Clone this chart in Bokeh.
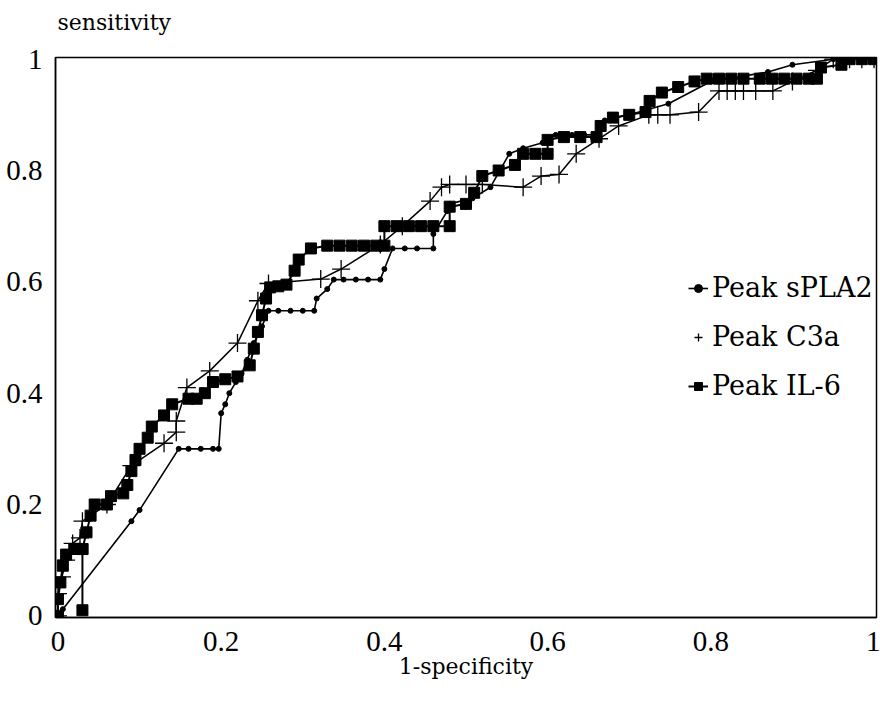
from bokeh.plotting import figure
from bokeh.models import Legend, LegendItem, Range1d, FixedTicker, Title
from bokeh.embed import file_html
from bokeh.resources import INLINE

# --- data ---
spla2_x = [0, 0.006, 0.09, 0.1, 0.148, 0.16, 0.175, 0.19, 0.197, 0.2, 0.205, 0.21, 0.218, 0.225,
           0.232, 0.24, 0.25, 0.258, 0.27, 0.285, 0.3, 0.314, 0.317, 0.33, 0.338, 0.35, 0.365,
           0.38, 0.395, 0.40, 0.41, 0.425, 0.44, 0.46, 0.46, 0.477, 0.48, 0.508, 0.53, 0.553,
           0.57, 0.594, 0.61, 0.63, 0.645, 0.663, 0.67, 0.7, 0.748, 0.8, 0.87, 0.9, 0.95, 0.97,
           1.0]
spla2_y = [0, 0.012, 0.17, 0.19, 0.30, 0.30, 0.30, 0.30, 0.30, 0.364, 0.38, 0.40, 0.42, 0.435,
           0.46, 0.49, 0.52, 0.548, 0.548, 0.548, 0.548, 0.548, 0.57, 0.587, 0.604, 0.604, 0.604,
           0.604, 0.604, 0.623, 0.66, 0.66, 0.66, 0.66, 0.686, 0.727, 0.74, 0.75, 0.77, 0.83,
           0.84, 0.85, 0.864, 0.864, 0.864, 0.864, 0.89, 0.90, 0.92, 0.96, 0.977, 0.99, 1.0, 1.0,
           1.0]

c3a_x = [0, 0, 0.005, 0.01, 0.018, 0.027, 0.03, 0.06, 0.09, 0.13, 0.145, 0.145, 0.158, 0.186,
         0.22, 0.245, 0.258, 0.322, 0.347, 0.395, 0.422, 0.456, 0.47, 0.48, 0.5, 0.52, 0.57,
         0.592, 0.614, 0.635, 0.663, 0.687, 0.724, 0.735, 0.75, 0.785, 0.81, 0.82, 0.83, 0.84,
         0.855, 0.876, 0.9, 0.93, 0.95, 0.96, 0.97, 0.985, 1.0]
c3a_y = [0, 0.04, 0.07, 0.1, 0.13, 0.14, 0.17, 0.2, 0.27, 0.31, 0.33, 0.35, 0.41, 0.44,
         0.49, 0.566, 0.597, 0.605, 0.623, 0.667, 0.70, 0.745, 0.77, 0.775, 0.775, 0.775, 0.77,
         0.79, 0.793, 0.83, 0.857, 0.88, 0.90, 0.90, 0.90, 0.905, 0.943, 0.943, 0.943, 0.943,
         0.943, 0.943, 0.96, 0.98, 1.0, 1.0, 1.0, 1.0, 1.0]

il6_x = [0, 0, 0.003, 0.006, 0.01, 0.02, 0.03, 0.03, 0.03, 0.035, 0.04, 0.045, 0.06, 0.065,
         0.08, 0.085, 0.09, 0.095, 0.1, 0.11, 0.115, 0.13, 0.14, 0.16, 0.17, 0.18, 0.19, 0.205,
         0.22, 0.235, 0.24, 0.245, 0.25, 0.255, 0.26, 0.27, 0.28, 0.29, 0.295, 0.31, 0.33, 0.345,
         0.36, 0.375, 0.39, 0.4, 0.4, 0.415, 0.43, 0.445, 0.46, 0.48, 0.48, 0.5, 0.51, 0.52,
         0.54, 0.56, 0.57, 0.585, 0.6, 0.6, 0.62, 0.64, 0.66, 0.665, 0.68, 0.7, 0.72, 0.725,
         0.74, 0.76, 0.78, 0.795, 0.81, 0.825, 0.84, 0.86, 0.875, 0.89, 0.905, 0.92, 0.93,
         0.935, 0.96, 0.97, 0.985, 1.0]
il6_y = [0, 0.03, 0.06, 0.09, 0.11, 0.12, 0.12, 0.01, 0.12, 0.15, 0.18, 0.2, 0.2, 0.215,
         0.22, 0.235, 0.26, 0.28, 0.3, 0.32, 0.34, 0.36, 0.38, 0.39, 0.39, 0.40, 0.42, 0.425,
         0.43, 0.45, 0.48, 0.51, 0.54, 0.57, 0.59, 0.592, 0.595, 0.62, 0.64, 0.66, 0.665, 0.665,
         0.665, 0.665, 0.665, 0.665, 0.70, 0.70, 0.70, 0.70, 0.70, 0.70, 0.735, 0.74, 0.76, 0.79,
         0.80, 0.81, 0.83, 0.83, 0.83, 0.855, 0.86, 0.86, 0.86, 0.88, 0.895, 0.90, 0.905, 0.925,
         0.94, 0.95, 0.96, 0.965, 0.965, 0.965, 0.965, 0.965, 0.965, 0.965, 0.965, 0.965, 0.965,
         0.985, 0.99, 1.0, 1.0, 1.0]

ticks = [0, 0.2, 0.4, 0.6, 0.8, 1]
tick_labels = {0: "0", 0.2: "0.2", 0.4: "0.4", 0.6: "0.6", 0.8: "0.8", 1: "1"}
series_names = ["Peak sPLA2", "Peak C3a", "Peak IL-6"]
y_title = "sensitivity"
x_title = "1-specificity"

TFONT = "Liberation Serif"
LFONT = "DejaVu Serif"

p = figure(width=880, height=697, output_backend="svg", toolbar_location=None,
           x_range=Range1d(-0.003, 1.003), y_range=Range1d(-0.003, 1.003),
           min_border_left=55, min_border_right=4, min_border_top=57, min_border_bottom=80)
p.title = Title(text=y_title, align="left", text_font=LFONT, text_font_size="22px",
                text_font_style="normal", text_color="black", offset=2, standoff=0,
                vertical_align="bottom")
p.title_location = "above"
# blank spacer between the y-title and the frame
p.add_layout(Title(text=" ", text_font=LFONT, text_font_size="18px", standoff=0,
                   text_color="white"), "above")

p.xgrid.visible = False
p.ygrid.visible = False
p.outline_line_color = "black"
p.outline_line_width = 1.5
p.background_fill_color = "white"
p.border_fill_color = "white"

for ax in (p.xaxis[0], p.yaxis[0]):
    ax.ticker = FixedTicker(ticks=ticks)
    ax.major_label_overrides = tick_labels
    ax.major_tick_line_color = None
    ax.minor_tick_line_color = None
    ax.axis_line_color = "black"
    ax.axis_line_width = 1.5
    ax.major_label_text_font = TFONT
    ax.major_label_text_font_size = "29px"
    ax.major_label_text_color = "black"
p.xaxis.major_label_standoff = 8
p.yaxis.major_label_standoff = 7
p.xaxis.axis_label = x_title
p.xaxis.axis_label_text_font = LFONT
p.xaxis.axis_label_text_font_size = "22px"
p.xaxis.axis_label_text_font_style = "normal"
p.xaxis.axis_label_text_color = "black"
p.xaxis.axis_label_standoff = 0

r1l = p.line(spla2_x, spla2_y, line_color="black", line_width=1.6)
r1m = p.scatter(spla2_x, spla2_y, marker="circle", size=5, fill_color="black", line_color="black")
r2l = p.line(c3a_x, c3a_y, line_color="black", line_width=1.5)
r2m = p.scatter(c3a_x, c3a_y, marker="cross", size=18, line_color="black", line_width=1.3)
r3l = p.line(il6_x, il6_y, line_color="black", line_width=2)
r3m = p.scatter(il6_x, il6_y, marker="square", size=11, fill_color="black", line_color="black")

legend = Legend(items=[LegendItem(label=series_names[0], renderers=[r1l, r1m]),
                       LegendItem(label=series_names[1], renderers=[r2m]),
                       LegendItem(label=series_names[2], renderers=[r3l, r3m])],
                location=(633, 216), border_line_color=None, background_fill_alpha=0,
                padding=0, margin=0, spacing=18, label_height=30, glyph_height=30,
                glyph_width=20, label_standoff=4, label_text_font=LFONT,
                label_text_font_size="27px", label_text_color="black")
p.add_layout(legend)

open("out.html", "w").write(file_html(p, INLINE))
